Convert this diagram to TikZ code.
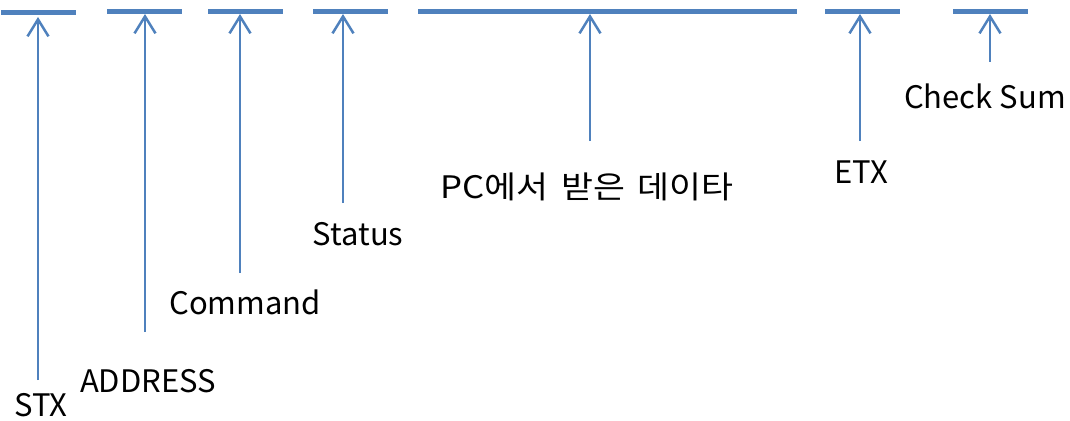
\documentclass[tikz,border=0pt]{standalone}
\usepackage{fontspec}
\setmainfont{Noto Sans CJK KR}
\newfontfamily\breitschrift[FakeStretch=1.12, WordSpace=1.6]{Noto Sans CJK KR}
\usetikzlibrary{arrows.meta}
\definecolor{rahmenblau}{RGB}{79,129,189}

\begin{document}
\begin{tikzpicture}[x=1pt, y=-1pt,
	feld/.style={rahmenblau, line width=5pt},
	zeiger/.style={rahmenblau, line width=2.5pt, -{Straight Barb[length=17pt, width=21pt]}},
	beschr/.style={anchor=base, inner sep=0pt, font=\fontsize{31}{36}\selectfont}]
	\useasboundingbox (0,0) rectangle (1070,420); % Rand wie Vorlage

	% Felder des Telegramms
	\draw[feld] (1,12.5) -- (76,12.5);
	\draw[feld] (107,11.5) -- (182,11.5);
	\draw[feld] (208,11.5) -- (283,11.5);
	\draw[feld] (313,11.5) -- (388,11.5);
	\draw[feld] (418,11.5) -- (797,11.5);
	\draw[feld] (825,11.5) -- (900,11.5);
	\draw[feld] (953,11.5) -- (1028,11.5);

	\coordinate (stxFeld) at (38,17);
	\coordinate (adrFeld) at (145,14);
	\coordinate (cmdFeld) at (240,14);
	\coordinate (stsFeld) at (343,14);
	\coordinate (datFeld) at (590,14);
	\coordinate (etxFeld) at (860,14);
	\coordinate (sumFeld) at (990,14);

	\coordinate (stxFuss) at (38,380);
	\coordinate (adrFuss) at (145,332);
	\coordinate (cmdFuss) at (240,273);
	\coordinate (stsFuss) at (343,203);
	\coordinate (datFuss) at (590,141);
	\coordinate (etxFuss) at (860,141);
	\coordinate (sumFuss) at (990,62);

	\draw[zeiger] (stxFuss) -- (stxFeld);
	\draw[zeiger] (adrFuss) -- (adrFeld);
	\draw[zeiger] (cmdFuss) -- (cmdFeld);
	\draw[zeiger] (stsFuss) -- (stsFeld);
	\draw[zeiger] (datFuss) -- (datFeld);
	\draw[zeiger] (etxFuss) -- (etxFeld);
	\draw[zeiger] (sumFuss) -- (sumFeld);

	\node[beschr] (stx) at (41,416) {STX};
	\node[beschr] (adr) at (148,392) {ADDRESS};
	\node[beschr] (cmd) at (245,314) {Command};
	\node[beschr] (sts) at (358,245) {Status};
	\node[beschr, font=\fontsize{31}{36}\breitschrift] (dat) at (587,198) {PC에서 받은 데이타};
	\node[beschr] (etx) at (861,183) {ETX};
	\node[beschr] (sum) at (985,108) {Check Sum};

	%\draw[help lines, step=10] (0,0) grid (1070,420);
\end{tikzpicture}
\end{document}
